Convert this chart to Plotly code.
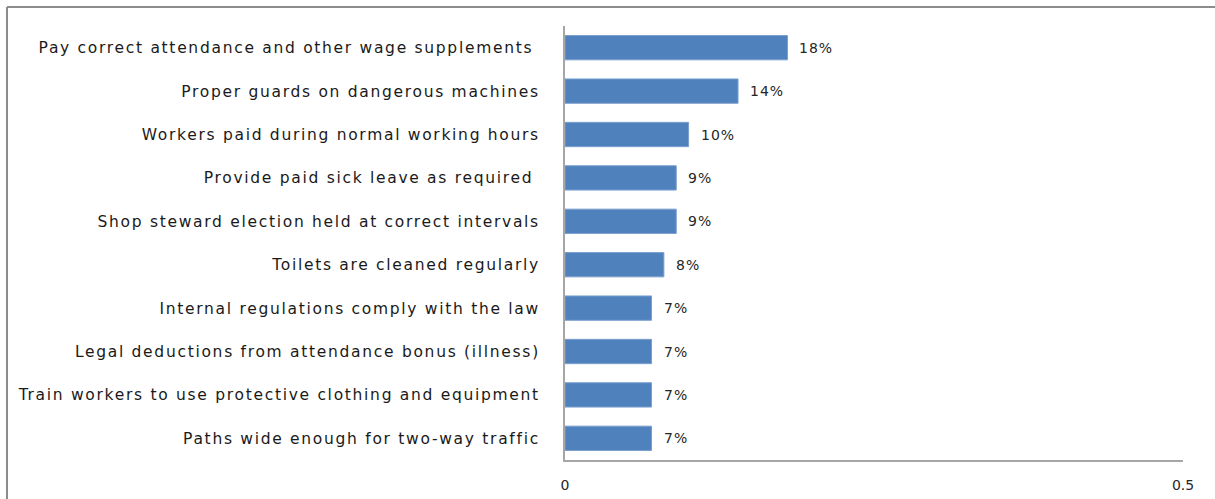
import plotly.graph_objects as go

# Audit findings: share of factories out of compliance, top ten issues
issues = [
    "Pay correct attendance and other wage supplements\u00a0",
    "Proper guards on dangerous machines",
    "Workers paid during normal working hours",
    "Provide paid sick leave as required\u00a0",
    "Shop steward election held at correct intervals",
    "Toilets are cleaned regularly",
    "Internal regulations comply with the law",
    "Legal deductions from attendance bonus (illness)",
    "Train workers to use protective clothing and equipment",
    "Paths wide enough for two-way traffic",
]
shares = [0.18, 0.14, 0.10, 0.09, 0.09, 0.08, 0.07, 0.07, 0.07, 0.07]
share_labels = ["18%", "14%", "10%", "9%", "9%", "8%", "7%", "7%", "7%", "7%"]
x_ticks = [0, 0.5]
x_tick_text = ["0", "0.5"]

W, H = 1215, 499
ML, MR, MT, MB = 565, 32, 26, 39
plot_w = W - ML - MR
plot_h = H - MT - MB


def spaced(s, px):
    return f'<span style="letter-spacing:{px}px">{s}</span>'


fig = go.Figure(
    go.Bar(
        x=shares,
        y=issues,
        orientation="h",
        marker=dict(color="#4f81bd", line=dict(color="#7a9fcf", width=1)),
        hoverinfo="skip",
    )
)

for val, lab, cat in zip(shares, share_labels, issues):
    fig.add_annotation(
        x=val, y=cat, text=spaced(lab, 1), showarrow=False,
        xanchor="left", xshift=10,
        font=dict(family="DejaVu Sans", size=14, color="#262626"),
    )

# Frame edges along the top and left of the chart area
fx = (7 - ML) / plot_w
fy = 1 + (MT - 7) / plot_h
fig.add_shape(type="line", xref="paper", yref="paper", x0=fx, x1=(W - ML) / plot_w,
              y0=fy, y1=fy, line=dict(color="#8c8c8c", width=2))
fig.add_shape(type="line", xref="paper", yref="paper", x0=fx, x1=fx,
              y0=fy, y1=-(MB) / plot_h - 0.01, line=dict(color="#8c8c8c", width=2))

fig.update_layout(
    width=W,
    height=H,
    margin=dict(l=ML, r=MR, t=MT, b=MB, autoexpand=False),
    plot_bgcolor="white",
    paper_bgcolor="white",
    bargap=0.44,
    showlegend=False,
    xaxis=dict(
        range=[0, 0.5],
        tickvals=x_ticks,
        ticktext=x_tick_text,
        automargin=False,
        showgrid=False,
        zeroline=False,
        showline=True,
        linecolor="#a6a6a6",
        linewidth=2,
        ticks="",
        ticklabelstandoff=11,
        tickfont=dict(family="DejaVu Sans", size=14, color="#262626"),
    ),
    yaxis=dict(
        autorange="reversed",
        tickvals=issues,
        ticktext=[spaced(s, 1.7) for s in issues],
        automargin=False,
        showgrid=False,
        zeroline=False,
        showline=True,
        linecolor="#a6a6a6",
        linewidth=2,
        ticks="",
        ticklabelstandoff=20,
        tickfont=dict(family="DejaVu Sans", size=15.5, color="#1a1a1a"),
    ),
)

fig.write_html("out.html")
